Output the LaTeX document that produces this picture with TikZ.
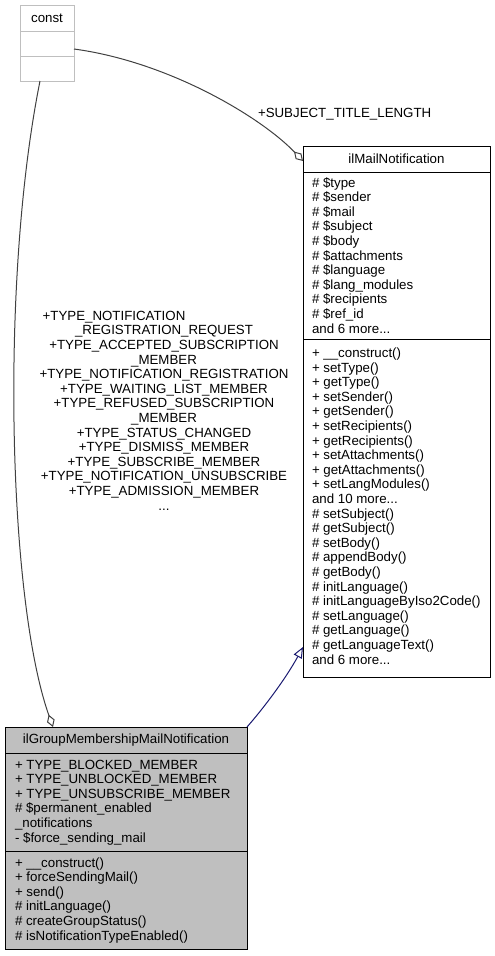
\documentclass[tikz,border=0pt]{standalone}
\usepackage{fontspec}
\setmainfont{Liberation Sans}
\usetikzlibrary{arrows.meta}

\definecolor{edgegray}{HTML}{404040}
\definecolor{boxgray}{HTML}{BFBFBF}
\definecolor{inhblue}{HTML}{191970}

\begin{document}
\begin{tikzpicture}[x=1bp,y=-1bp]
	\tikzset{every node/.style={font=\fontsize{13.3bp}{14.6bp}\selectfont,inner sep=0pt,outer sep=0pt},
		cls/.style={draw,line width=1bp,anchor=north west},
		sep/.style={line width=1bp},
		title/.style={anchor=base},
		members/.style={anchor=base west,align=left},
		aggr/.style={draw=edgegray,line width=1bp,-{Diamond[open,length=13bp,width=8bp]}},
		inherit/.style={draw=inhblue,line width=1bp,-{Triangle[open,length=11bp,width=9bp]}}}
	\useasboundingbox (0,0) rectangle (495,956);
	\node[cls,draw=boxgray,minimum width=54bp,minimum height=76bp] (cnst) at (20,5) {};
	\node[cls,minimum width=187bp,minimum height=531bp] (mail) at (303,146) {};
	\node[cls,fill=boxgray,minimum width=242bp,minimum height=222bp] (group) at (5,727) {};
	\draw[sep,boxgray] ([yshift=-26bp]cnst.north west) -- ([yshift=-26bp]cnst.north east);
	\draw[sep,boxgray] ([yshift=25bp]cnst.south west) -- ([yshift=25bp]cnst.south east);
	\draw[sep] ([yshift=-26bp]mail.north west) -- ([yshift=-26bp]mail.north east);
	\draw[sep] ([yshift=-193bp]mail.north west) -- ([yshift=-193bp]mail.north east);
	\draw[sep] ([yshift=-26bp]group.north west) -- ([yshift=-26bp]group.north east);
	\draw[sep] ([yshift=98bp]group.south west) -- ([yshift=98bp]group.south east);
	\node[title] (cnsttitle) at (47,22.7) {const};
	\node[title] (mailtitle) at (396.5,163.5) {ilMailNotification};
	% base anchor of a multi-line node is its last line
	\node[members] (mailattr) at (312,333) {\# \$type\\\# \$sender\\\# \$mail\\\# \$subject\\\# \$body\\
		\# \$attachments\\\# \$language\\\# \$lang\_modules\\\# \$recipients\\\# \$ref\_id\\and 6 more...};
	\node[members] (mailops) at (312,664) {+ \_\_construct()\\+ setType()\\+ getType()\\+ setSender()\\
		+ getSender()\\+ setRecipients()\\+ getRecipients()\\+ setAttachments()\\+ getAttachments()\\
		+ setLangModules()\\and 10 more...\\\# setSubject()\\\# getSubject()\\\# setBody()\\
		\# appendBody()\\\# getBody()\\\# initLanguage()\\\# initLanguageByIso2Code()\\\# setLanguage()\\
		\# getLanguage()\\\# getLanguageText()\\and 6 more...};
	\node[title] (grouptitle) at (126,743.5) {ilGroupMembershipMailNotification};
	\node[members] (groupattr) at (15,842) {+ TYPE\_BLOCKED\_MEMBER\\+ TYPE\_UNBLOCKED\_MEMBER\\
		+ TYPE\_UNSUBSCRIBE\_MEMBER\\\# \$permanent\_enabled\\\_notifications\\- \$force\_sending\_mail};
	\node[members] (groupops) at (15,940) {+ \_\_construct()\\+ forceSendingMail()\\+ send()\\
		\# initLanguage()\\\# createGroupStatus()\\\# isNotificationTypeEnabled()};
	\node[anchor=base west] (subjlbl) at (258,117) {+SUBJECT\_TITLE\_LENGTH};
	\node[anchor=base,align=center] (typelbl) at (164,510) {+TYPE\_NOTIFICATION\hspace*{100bp}\\
		\_REGISTRATION\_REQUEST\\+TYPE\_ACCEPTED\_SUBSCRIPTION\hspace*{20bp}\\\_MEMBER\\
		+TYPE\_NOTIFICATION\_REGISTRATION\\+TYPE\_WAITING\_LIST\_MEMBER\\
		+TYPE\_REFUSED\_SUBSCRIPTION\hspace*{28bp}\\\_MEMBER\\+TYPE\_STATUS\_CHANGED\\
		+TYPE\_DISMISS\_MEMBER\\+TYPE\_SUBSCRIBE\_MEMBER\\+TYPE\_NOTIFICATION\_UNSUBSCRIBE\\
		+TYPE\_ADMISSION\_MEMBER\\...};
	\draw[aggr] ([yshift=-6bp]cnst.east) .. controls (170,62) and (262,118) .. ([yshift=-15bp]mail.north west);
	\draw[aggr] ([xshift=-7bp]cnst.south) .. controls (0,280) and (8,600) .. ([xshift=48bp]group.north west);
	\draw[inherit] (group.north east) .. controls (262,710) and (285,680) .. ([yshift=30bp]mail.south west);
\end{tikzpicture}
\end{document}
